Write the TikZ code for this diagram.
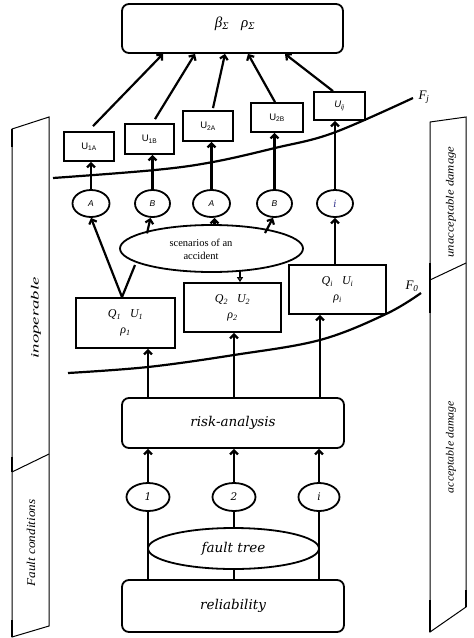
\documentclass[tikz,border=0pt]{standalone}
\usepackage{graphicx}
\usepackage{fontspec}
\setmainfont{Liberation Serif}
\newfontfamily\dvs{DejaVu Serif}
\newfontfamily\lsans{Liberation Sans}
\usetikzlibrary{arrows.meta,shapes.geometric}
\tikzset{
  box/.style={draw, line width=1.8pt, rectangle, inner sep=0pt},
  rbox/.style={box, rounded corners=7pt},
  ell/.style={draw, line width=1.8pt, ellipse, inner sep=0pt, fill=white},
  arr/.style={line width=2.2pt, -{Straight Barb[length=4pt,width=8pt]}},
  ln/.style={line width=2.2pt},
  sideline/.style={line width=1pt},
  sidethick/.style={line width=2.6pt},
  lbl/.style={inner sep=0pt},
  ulab/.style={font=\lsans\fontsize{9.5}{10}\selectfont},
  ablab/.style={font=\lsans\itshape\fontsize{8.5}{9}\selectfont},
  bigit/.style={font=\dvs\itshape\fontsize{13.5}{15}\selectfont},
  qlab/.style={font=\itshape\fontsize{12}{14}\selectfont, align=center},
  sidetxt/.style={rotate=90, inner sep=0pt, font=\itshape\fontsize{11}{12}\selectfont},
}
\begin{document}
\begin{tikzpicture}[x=1pt,y=-1pt]
\useasboundingbox (0,0) rectangle (474,638);

% ---- side panels
\draw[sideline] (12,129) -- (49,117) -- (49,626) -- (12,637) -- cycle;
\draw[sideline] (12,472) -- (49,454);
\draw[sidethick] (12,129) -- (12,147);
\draw[sidethick] (12,457) -- (12,472);
\draw[sidethick] (12,620) -- (12,637);
\node[sidetxt] (inop) at (36,318) {\scalebox{1.7}[1]{inoperable}};
\node[sidetxt, font=\itshape\fontsize{12}{13}\selectfont] (fault) at (31,543) {\scalebox{1.1}[1]{Fault conditions}};

\draw[sideline] (430,122) -- (466,117) -- (466,607) -- (430,632) -- cycle;
\draw[sideline] (430,280) -- (466,263);
\draw[sidethick] (430,263) -- (430,313);
\draw[sidethick] (430,600) -- (430,632);
\draw[sidethick] (466,590) -- (466,607);
\node[sidetxt] (unacc) at (451,202) {\scalebox{1.15}[1]{unacceptable damage}};
\node[sidetxt] (acc) at (451,447) {\scalebox{1.08}[1]{acceptable damage}};

% ---- top box
\node[rbox, minimum width=221pt, minimum height=49pt] (top) at (232.5,28.5) {};
\node[lbl, font=\itshape\fontsize{15}{17}\selectfont] (toptxt) at (235,24) {β\textsubscript{Σ}\hspace{12pt}ρ\textsubscript{Σ}};

% ---- U boxes
\node[box, ulab, minimum width=50pt, minimum height=29pt] (u1a) at (89,146.5) {U\textsubscript{1A}};
\node[box, ulab, minimum width=49pt, minimum height=30pt] (u1b) at (149.5,139) {U\textsubscript{1B}};
\node[box, ulab, minimum width=50pt, minimum height=30pt] (u2a) at (208,126) {U\textsubscript{2A}};
\node[box, ulab, minimum width=52pt, minimum height=29pt] (u2b) at (277,117.5) {U\textsubscript{2B}};
\node[box, ulab, font=\lsans\itshape\fontsize{9.5}{10}\selectfont, minimum width=51pt, minimum height=28pt] (uij) at (339.5,106) {U\textsubscript{ij}};

% ---- connectors to top box
\coordinate (t1) at ([xshift=-69.5pt]top.south);
\coordinate (t2) at ([xshift=-37.5pt]top.south);
\coordinate (t3) at ([xshift=-7.5pt]top.south);
\coordinate (t4) at ([xshift=15.5pt]top.south);
\coordinate (t5) at ([xshift=52.5pt]top.south);
\draw[arr] ([shift={(4,-5)}]u1a.north) -- (t1);
\draw[arr] ([shift={(5.5,-4)}]u1b.north) -- (t2);
\draw[arr] ([shift={(5,-2)}]u2a.north) -- (t3);
\draw[arr] ([shift={(-2,0)}]u2b.north) -- (t4);
\draw[arr] ([shift={(-6.5,0)}]uij.north) -- (t5);

% ---- F_j curve
\draw[ln] plot[smooth, tension=0.6] coordinates {(53,178) (155,170) (213,162) (275,148) (333,133) (413,98)};
\node[lbl, font=\itshape\fontsize{13}{14}\selectfont] (fj) at (424,97) {F\textsubscript{j}};

% ---- scenario circles
\node[ell, ablab, minimum width=37pt, minimum height=27pt] (a1) at (91,203.5) {A};
\node[ell, ablab, minimum width=35pt, minimum height=27pt] (b1) at (152.5,203.5) {B};
\node[ell, ablab, minimum width=37pt, minimum height=27pt] (a2) at (211.5,203.5) {A};
\node[ell, ablab, minimum width=35pt, minimum height=27pt] (b2) at (274.5,203.5) {B};
\node[ell, font=\dvs\itshape\fontsize{10}{11}\selectfont, text={rgb,255:red,50;green,50;blue,140}, minimum width=36pt, minimum height=27pt] (ci) at (335,203.5) {i};

\draw[arr] (a1.north) -- (a1.north |- u1a.south);
\draw[arr] (b1.north) -- (b1.north |- u1b.south);
\draw[arr] (a2.north) -- (a2.north |- u2a.south);
\draw[arr] (b2.north) -- (b2.north |- u2b.south);
\draw[arr] (ci.north) -- (ci.north |- uij.south);

% ---- scenarios ellipse
\node[ell, minimum width=183pt, minimum height=47pt] (sc) at (211.5,248.5) {};
\node[lbl, align=center, font=\fontsize{10.5}{13}\selectfont] (sctxt) at (201,249) {scenarios of an\\accident};

% ---- Q boxes
\node[box, qlab, minimum width=99pt, minimum height=50pt] (q1) at (125.5,323) {Q\textsubscript{1}\hspace{9pt}U\textsubscript{1}\\[2pt]ρ\textsubscript{1}};
\node[box, qlab, minimum width=97pt, minimum height=49pt] (q2) at (232.5,307.5) {Q\textsubscript{2}\hspace{9pt}U\textsubscript{2}\\[2pt]ρ\textsubscript{2}};
\node[box, qlab, minimum width=97pt, minimum height=49pt] (qi) at (337.5,289.5) {Q\textsubscript{i}\hspace{9pt}U\textsubscript{i}\\[2pt]ρ\textsubscript{i}};

\coordinate (q1top) at ([xshift=-3.5pt]q1.north);
\coordinate (scq1) at ([shift={(-76.5,16.5)}]sc.center);
\draw[arr] (q1top) -- (a1.south);
\draw[ln] (q1top) -- (scq1);
\draw[arr] ([shift={(-5.5,15.5)}]b1.south) -- ([xshift=-2pt]b1.south);
\draw[arr] ([shift={(3,-22.5)}]sc.center) -- ([xshift=3pt]a2.south);
\draw[arr] ([shift={(53.5,-15.5)}]sc.center) -- ([xshift=-1.5pt]b2.south);
\draw[line width=1.8pt, -{Triangle[open,length=5pt,width=6pt,line width=1.3pt]}] ([shift={(28.5,22)}]sc.center) -- ([xshift=7.5pt]q2.north);
\draw[arr] (ci.south |- qi.north) -- (ci.south);

% ---- F_0 curve
\draw[ln] plot[smooth, tension=0.6] coordinates {(68,373) (148,367) (234,355) (320,340) (386,314) (421,293)};
\node[lbl, font=\itshape\fontsize{13}{14}\selectfont] (f0) at (412,286) {F\textsubscript{0}};

% ---- risk analysis
\node[rbox, bigit, minimum width=222pt, minimum height=50pt] (risk) at (233,423) {risk-analysis};
\draw[arr] ([xshift=-85pt]risk.north) -- ([xshift=-85pt]risk.north |- q1.south);
\draw[arr] ([xshift=1pt]risk.north) -- ([xshift=1pt]risk.north |- q2.south);
\draw[arr] ([xshift=87pt]risk.north) -- ([xshift=87pt]risk.north |- qi.south);

% ---- small ellipses
\node[ell, font=\dvs\itshape\fontsize{10.5}{11}\selectfont, minimum width=43pt, minimum height=28pt] (e1) at (148,497) {1};
\node[ell, font=\dvs\itshape\fontsize{10.5}{11}\selectfont, minimum width=43pt, minimum height=28pt] (e2) at (234,497) {2};
\node[ell, font=\dvs\itshape\fontsize{10.5}{11}\selectfont, minimum width=41pt, minimum height=28pt] (ei) at (319,497) {i};
\draw[arr] (e1.north) -- (e1.north |- risk.south);
\draw[arr] (e2.north) -- (e2.north |- risk.south);
\draw[arr] (ei.north) -- (ei.north |- risk.south);

% ---- fault tree and reliability
\node[ell, bigit, minimum width=171pt, minimum height=41pt] (ft) at (233.5,548.5) {fault tree};
\node[rbox, bigit, minimum width=222pt, minimum height=52pt] (rel) at (233,606) {reliability};
\draw[ln] (e1.south |- rel.north) -- (e1.south);
\draw[ln] (ei.south |- rel.north) -- (ei.south);
\draw[ln] (e2.south |- rel.north) -- (e2.south |- ft.south);
\draw[ln] (e2.south |- ft.north) -- (e2.south);
\end{tikzpicture}
\end{document}
